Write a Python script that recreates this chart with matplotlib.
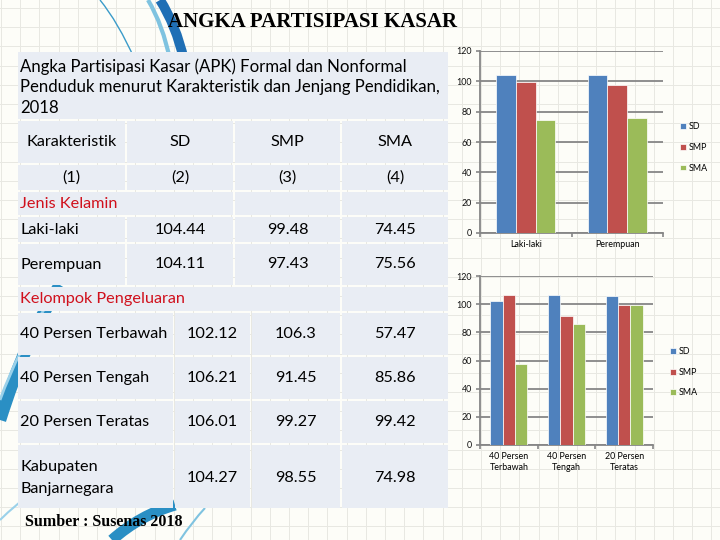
import numpy as np
import matplotlib
matplotlib.use("Agg")
import matplotlib.pyplot as plt
from matplotlib.patches import Rectangle, PathPatch
from matplotlib.path import Path

# ---------------------------------------------------------
# data (APK 2018, Kabupaten Banjarnegara)
# ---------------------------------------------------------
levels = ["SD", "SMP", "SMA"]
level_nums = ["(1)", "(2)", "(3)", "(4)"]

gender_labels = ["Laki-laki", "Perempuan"]
gender_sd = [104.44, 104.11]
gender_smp = [99.48, 97.43]
gender_sma = [74.45, 75.56]

expense_labels = ["40 Persen Terbawah", "40 Persen Tengah", "20 Persen Teratas"]
expense_ticks = ["40 Persen\nTerbawah", "40 Persen\nTengah", "20 Persen\nTeratas"]
expense_sd = [102.12, 106.21, 106.01]
expense_smp = [106.3, 91.45, 99.27]
expense_sma = [57.47, 85.86, 99.42]

kab_lines = ["Kabupaten", "Banjarnegara"]
kab_values = [104.27, 98.55, 74.98]

caption_lines = ["Angka Partisipasi Kasar (APK) Formal dan Nonformal",
                 "Penduduk menurut Karakteristik dan Jenjang Pendidikan,",
                 "2018"]

colors = ["#4F81BD", "#C0504D", "#9BBB59"]
CELL = "#E9EDF4"
FONT = "Lato"
TS = 11.7  # table font size

fig = plt.figure(figsize=(7.2, 5.4), dpi=100)
fig.patch.set_facecolor("#FDFDF8")

# background layer in pixel coordinates
bg = fig.add_axes([0, 0, 1, 1], zorder=0)
bg.set_xlim(0, 720)
bg.set_ylim(540, 0)
bg.axis("off")

for gx in np.arange(1, 720, 19.2):
    bg.axvline(gx, color="#E8E8E2", lw=0.7, zorder=0)
for gy in np.arange(8, 540, 19.2):
    bg.axhline(gy, color="#E8E8E2", lw=0.7, zorder=0)


def swoosh(pts, color, lw):
    codes = [Path.MOVETO, Path.CURVE3, Path.CURVE3]
    bg.add_patch(PathPatch(Path(pts, codes), fill=False, edgecolor=color,
                           lw=lw, capstyle="butt", zorder=1))


# decorative swooshes of the slide theme
swoosh([(100, 0), (118, 22), (135, 60)], "#3A9BC9", 1.0)
swoosh([(160, 0), (176, 25), (184, 60)], "#1F6FB5", 7)
swoosh([(148, 0), (163, 25), (170, 60)], "#7FC3E0", 3)
swoosh([(60, 285), (25, 340), (0, 420)], "#2A8FC4", 9)
swoosh([(50, 300), (18, 350), (0, 400)], "#9AD1EA", 2)
swoosh([(112, 540), (140, 515), (175, 505)], "#2A8FC4", 8)
swoosh([(180, 540), (192, 522), (205, 508)], "#7FC3E0", 1.5)
swoosh([(0, 520), (15, 505), (35, 490)], "#9AD1EA", 1.5)

# title
bg.text(313, 22, "ANGKA PARTISIPASI KASAR", ha="center", va="center",
        fontsize=15, fontweight="bold", family="Liberation Serif",
        color="black", zorder=3)


def cell(x0, x1, y0, y1):
    bg.add_patch(Rectangle((x0, y0), x1 - x0, y1 - y0, facecolor=CELL,
                           edgecolor="none", zorder=2))


def txt(x, y, s, ha="center", color="black", size=TS):
    bg.text(x, y, s, ha=ha, va="center", fontsize=size, family=FONT,
            color=color, zorder=3)


up_cols = [(18, 125), (127, 233), (235, 340), (342, 448)]
lo_cols = [(18, 173), (175, 250), (252, 340), (342, 448)]

# caption block
cell(18, 448, 52, 119)
for line, y in zip(caption_lines, [67, 87, 108]):
    txt(20, y, line, ha="left", size=12.1)

# header rows
for (x0, x1) in up_cols:
    cell(x0, x1, 121, 163)
    cell(x0, x1, 165, 190)
header = ["Karakteristik"] + levels
for i, (x0, x1) in enumerate(up_cols):
    txt((x0 + x1) / 2, 142, header[i])
    txt((x0 + x1) / 2, 178, level_nums[i])

# Jenis Kelamin section
cell(18, 233, 192, 215)
cell(235, 340, 192, 215)
cell(342, 448, 192, 215)
txt(20, 204, "Jenis Kelamin", ha="left", color="#D0101C")

gender_rows = [(217, 242), (244, 285)]
for r, (y0, y1) in enumerate(gender_rows):
    for (x0, x1) in up_cols:
        cell(x0, x1, y0, y1)
    yc = (y0 + y1) / 2
    txt(20, yc, gender_labels[r], ha="left")
    vals = [gender_sd[r], gender_smp[r], gender_sma[r]]
    for c, v in enumerate(vals):
        x0, x1 = up_cols[c + 1]
        txt((x0 + x1) / 2, yc, f"{v:g}")

# Kelompok Pengeluaran section
cell(18, 340, 287, 311)
cell(342, 448, 287, 311)
txt(20, 299, "Kelompok Pengeluaran", ha="left", color="#D0101C")

expense_rows = [(313, 355), (357, 399), (401, 443)]
for r, (y0, y1) in enumerate(expense_rows):
    for (x0, x1) in lo_cols:
        cell(x0, x1, y0, y1)
    yc = (y0 + y1) / 2
    txt(20, yc, expense_labels[r], ha="left")
    vals = [expense_sd[r], expense_smp[r], expense_sma[r]]
    for c, v in enumerate(vals):
        x0, x1 = lo_cols[c + 1]
        txt((x0 + x1) / 2, yc, f"{v:g}")

for (x0, x1) in lo_cols:
    cell(x0, x1, 445, 508)
for line, y in zip(kab_lines, [467, 489]):
    txt(20, y, line, ha="left")
for c, v in enumerate(kab_values):
    x0, x1 = lo_cols[c + 1]
    txt((x0 + x1) / 2, 478, f"{v:g}")

bg.text(25, 522, "Sumber : Susenas 2018", ha="left", va="center",
        fontsize=11.5, fontweight="bold", family="Liberation Serif",
        color="black", zorder=3)


# ---------------------------------------------------------
# bar charts
# ---------------------------------------------------------
def bar_chart(rect, cats, series, legend_xy):
    ax = fig.add_axes(rect, zorder=2)
    ax.set_facecolor("none")
    x = np.arange(len(cats))
    w = 0.215
    for i, (lvl, vals) in enumerate(zip(levels, series)):
        ax.bar(x + (i - 1) * w, vals, w, color=colors[i], edgecolor="white",
               linewidth=0.5, label=lvl, zorder=3)
    ax.set_xlim(-0.5, len(cats) - 0.5)
    ax.set_ylim(0, 120)
    ax.set_yticks(range(0, 121, 20))
    ax.set_xticks(x)
    ax.set_xticklabels(cats, family=FONT, fontsize=6.4, linespacing=1.25)
    ax.set_xticks(np.arange(-0.5, len(cats), 1), minor=True)
    ax.tick_params(axis="x", which="major", length=0, pad=5)
    ax.tick_params(axis="x", which="minor", length=3, color="#868686", width=1.2)
    ax.tick_params(axis="y", length=3, color="#868686", width=1.2,
                   labelsize=6.4, pad=3, labelcolor="#111111")
    for lab in ax.get_yticklabels():
        lab.set_family(FONT)
    ax.grid(axis="y", color="#868686", lw=1.3, zorder=1)
    for side in ["top", "right"]:
        ax.spines[side].set_visible(False)
    for side in ["left", "bottom"]:
        ax.spines[side].set_color("#868686")
        ax.spines[side].set_linewidth(1.3)
    ax.legend(loc="center left", bbox_to_anchor=legend_xy, frameon=False,
              prop={"family": FONT, "size": 6.4}, handlelength=0.6,
              handleheight=0.6, handletextpad=0.3, labelspacing=1.3,
              borderaxespad=0)
    return ax


bar_chart([480 / 720, 1 - 233 / 540, 183 / 720, 182 / 540], gender_labels,
          [gender_sd, gender_smp, gender_sma], (1.075, 0.47))
bar_chart([480 / 720, 1 - 445 / 540, 173 / 720, 169 / 540], expense_ticks,
          [expense_sd, expense_smp, expense_sma], (1.08, 0.43))

fig.savefig("out.png", dpi=100, facecolor=fig.get_facecolor())
